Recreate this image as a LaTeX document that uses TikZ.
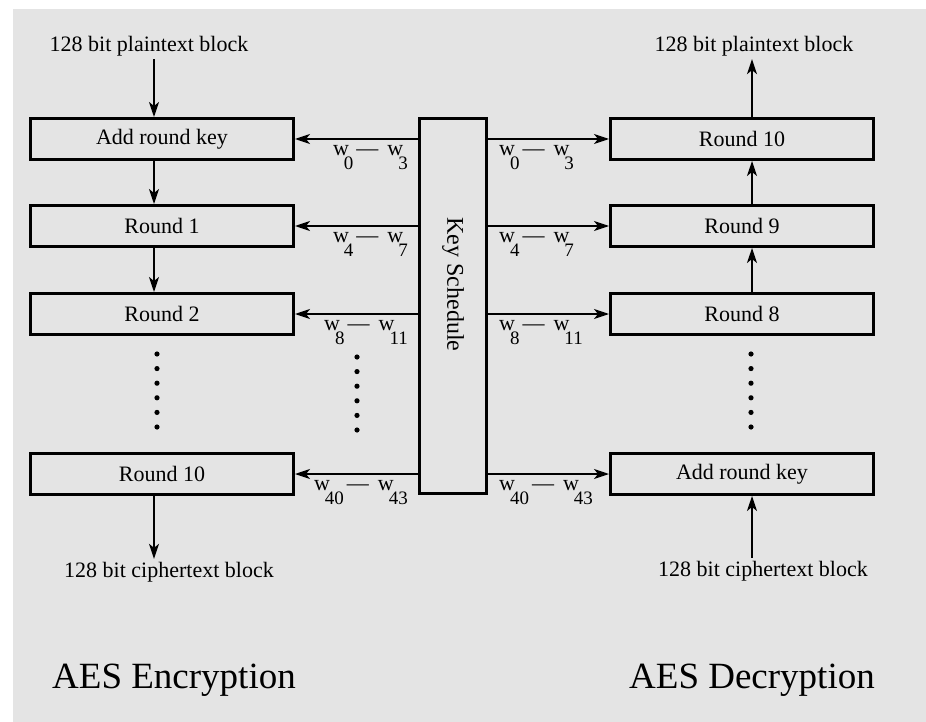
\documentclass[tikz,border=0pt]{standalone}
\usepackage{fontspec}
\setmainfont{Liberation Serif}
\usetikzlibrary{arrows.meta, positioning}
\definecolor{bggray}{RGB}{228,228,228}
\newcommand{\subsz}{\fontsize{19}{19}\selectfont}
\newcommand{\wsub}[1]{w\kern-5pt\raisebox{-14pt}{\subsz #1}}
\newcommand{\wlab}[2]{\wsub{#1}\kern3pt---\kern9pt\wsub{#2}}

\begin{document}
\begin{tikzpicture}[
    x=1pt, y=-1pt,
    > = {Stealth[length=15pt, width=10pt, inset=4pt]},
    roundbox/.style={draw, line width=3pt, minimum width=263pt, minimum height=41pt, inner sep=0pt, font=\fontsize{22}{26}\selectfont},
    keybox/.style={draw, line width=3pt, minimum width=67pt, minimum height=375pt, inner sep=0pt, font=\fontsize{24}{28}\selectfont},
    flow/.style={->, line width=1.5pt},
    iotext/.style={font=\fontsize{22}{26}\selectfont, inner sep=3pt},
    wtext/.style={font=\fontsize{22}{26}\selectfont, inner sep=0pt},
    title/.style={font=\fontsize{37}{42}\selectfont}
]

    % page and grey panel
    \fill[white] (0,0) rectangle (926,722);
    \fill[bggray] (13,9) rectangle (926,722);
    \useasboundingbox (0,0) rectangle (926,722);

    % encryption column
    \node[roundbox] (enc0) at (162,139) {Add round key};
    \node[roundbox] (enc1) at (162,226) {Round 1};
    \node[roundbox] (enc2) at (162,314) {Round 2};
    \node[roundbox] (enc10) at (162,474) {Round 10};

    % decryption column
    \node[roundbox] (dec10) at (742,139) {Round 10};
    \node[roundbox] (dec9) at (742,226) {Round 9};
    \node[roundbox] (dec8) at (742,314) {Round 8};
    \node[roundbox] (dec0) at (742,474) {Add round key};

    % key schedule
    \node[keybox] (key) at (453,306) {\rotatebox{-90}{Key Schedule\hspace*{43pt}}};

    % inputs, outputs and titles
    \node[iotext] (ptin) at (149,46) {128 bit plaintext block};
    \node[iotext] (ctout) at (169,572) {128 bit ciphertext block};
    \node[iotext] (ptout) at (754,46) {128 bit plaintext block};
    \node[iotext] (ctin) at (763,571) {128 bit ciphertext block};
    \node[title] (enctitle) at (174,680) {AES Encryption};
    \node[title] (dectitle) at (752,680) {AES Decryption};

    \coordinate (lcol) at (154,0);
    \coordinate (rcol) at (752,0);

    % data flow
    \draw[flow] (ptin.south -| lcol) -- (enc0.north -| lcol);
    \draw[flow] (enc0.south -| lcol) -- (enc1.north -| lcol);
    \draw[flow] (enc1.south -| lcol) -- (enc2.north -| lcol);
    \draw[flow] (enc10.south -| lcol) -- (ctout.north -| lcol);
    \draw[flow] (dec10.north -| rcol) -- (ptout.south -| rcol);
    \draw[flow] (dec9.north -| rcol) -- (dec10.south -| rcol);
    \draw[flow] (dec8.north -| rcol) -- (dec9.south -| rcol);
    \draw[flow] (ctin.north -| rcol) -- (dec0.south -| rcol);

    % round keys
    \foreach \enc/\dec/\lo/\hi in {enc0/dec10/0/3, enc1/dec9/4/7, enc2/dec8/8/11, enc10/dec0/40/43} {
        \draw[flow] (key.west |- \enc.east) -- (\enc.east);
        \draw[flow] (key.east |- \dec.west) -- (\dec.west);
        \path (key.west |- \enc.east) ++(-10,6) node[wtext, anchor=north east] (wl\lo) {\wlab{\lo}{\hi}};
        \path (key.east |- \dec.west) ++(11,6) node[wtext, anchor=north west] (wr\lo) {\wlab{\lo}{\hi}};
    }

    % skipped rounds
    \foreach \k in {0,...,5} {
        \fill (157,354+14.6*\k) circle (2.6pt);
        \fill (357,357+14.6*\k) circle (2.6pt);
        \fill (751,354+14.6*\k) circle (2.6pt);
    }

\end{tikzpicture}
\end{document}
